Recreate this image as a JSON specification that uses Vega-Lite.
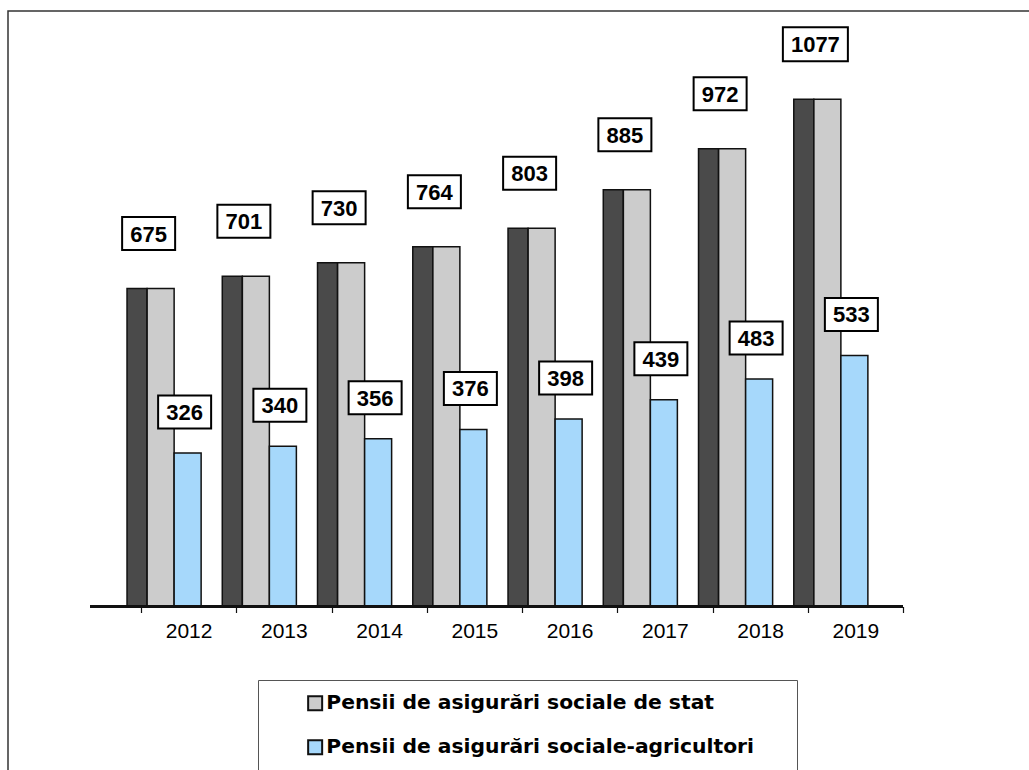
{
  "$schema": "https://vega.github.io/schema/vega-lite/v6.json",
  "width": 1024,
  "height": 762,
  "autosize": {"type": "none"},
  "padding": {"left": 8, "top": 11, "right": -3, "bottom": -3},
  "background": "white",
  "config": {
    "view": {"stroke": "#333333", "strokeWidth": 1.5},
    "font": "Liberation Sans"
  },
  "data": {
    "values": [
      {"year": "2012", "series": "Pensii de asigurări sociale de stat", "value": 675},
      {"year": "2013", "series": "Pensii de asigurări sociale de stat", "value": 701},
      {"year": "2014", "series": "Pensii de asigurări sociale de stat", "value": 730},
      {"year": "2015", "series": "Pensii de asigurări sociale de stat", "value": 764},
      {"year": "2016", "series": "Pensii de asigurări sociale de stat", "value": 803},
      {"year": "2017", "series": "Pensii de asigurări sociale de stat", "value": 885},
      {"year": "2018", "series": "Pensii de asigurări sociale de stat", "value": 972},
      {"year": "2019", "series": "Pensii de asigurări sociale de stat", "value": 1077},
      {"year": "2012", "series": "Pensii de asigurări sociale-agricultori", "value": 326},
      {"year": "2013", "series": "Pensii de asigurări sociale-agricultori", "value": 340},
      {"year": "2014", "series": "Pensii de asigurări sociale-agricultori", "value": 356},
      {"year": "2015", "series": "Pensii de asigurări sociale-agricultori", "value": 376},
      {"year": "2016", "series": "Pensii de asigurări sociale-agricultori", "value": 398},
      {"year": "2017", "series": "Pensii de asigurări sociale-agricultori", "value": 439},
      {"year": "2018", "series": "Pensii de asigurări sociale-agricultori", "value": 483},
      {"year": "2019", "series": "Pensii de asigurări sociale-agricultori", "value": 533}
    ]
  },
  "layer": [
    {
      "transform": [{"filter": {"field": "series", "equal": "Pensii de asigurări sociale de stat"}}],
      "mark": {"type": "bar", "fill": "#4a4a4a", "stroke": "#111111", "strokeWidth": 1.5, "width": 20, "xOffset": -51.6},
      "encoding": {
        "x": {
          "field": "year", "type": "nominal", "sort": null,
          "scale": {"range": [133, 895], "paddingInner": 0, "paddingOuter": 0},
          "axis": {
            "title": null, "domain": false, "labelAngle": 0,
            "tickBand": "extent", "tickSize": 6, "tickColor": "#111111", "tickWidth": 1.2,
            "labelFont": "Liberation Sans", "labelFontSize": 21, "labelColor": "black",
            "labelPadding": 8, "offset": -166.5, "grid": false
          }
        },
        "y": {
          "field": "value", "type": "quantitative",
          "scale": {"domain": [-353.5, 1264.3], "nice": false, "zero": false},
          "axis": null
        }
      }
    },
    {
      "transform": [{"filter": {"field": "series", "equal": "Pensii de asigurări sociale de stat"}}],
      "mark": {"type": "bar", "stroke": "#111111", "strokeWidth": 1.5, "width": 27, "xOffset": -28},
      "encoding": {
        "x": {"field": "year", "type": "nominal", "sort": null},
        "y": {"field": "value", "type": "quantitative"},
        "color": {
          "field": "series", "type": "nominal",
          "scale": {
            "domain": ["Pensii de asigurări sociale de stat", "Pensii de asigurări sociale-agricultori"],
            "range": ["#cccccc", "#a6d8fb"]
          },
          "legend": {
            "orient": "none", "legendX": 250, "legendY": 669,
            "title": " ", "titleOrient": "right", "titlePadding": 30,
            "padding": 13, "strokeColor": "#555555", "fillColor": "white",
            "symbolType": "square", "symbolSize": 196, "symbolOffset": 34,
            "symbolStrokeColor": "black", "symbolStrokeWidth": 2,
            "labelFont": "DejaVu Sans", "labelFontWeight": "bold", "labelFontSize": 20.3,
            "labelColor": "black", "labelLimit": 0, "labelOffset": 1, "rowPadding": 21
          }
        }
      }
    },
    {
      "transform": [{"filter": {"field": "series", "equal": "Pensii de asigurări sociale-agricultori"}}],
      "mark": {"type": "bar", "stroke": "#111111", "strokeWidth": 1.5, "width": 27, "xOffset": -1},
      "encoding": {
        "x": {"field": "year", "type": "nominal", "sort": null},
        "y": {"field": "value", "type": "quantitative"},
        "color": {"field": "series", "type": "nominal"}
      }
    },
    {
      "mark": {"type": "rule", "stroke": "#111111", "strokeWidth": 1.5, "xOffset": -98.6, "x2Offset": 47.6},
      "encoding": {
        "x": {"datum": "2012"},
        "x2": {"datum": "2019"},
        "y": {"datum": 0}
      }
    },
    {
      "transform": [{"filter": {"field": "series", "equal": "Pensii de asigurări sociale de stat"}}],
      "mark": {"type": "point", "filled": true, "fill": "white", "stroke": "black", "strokeWidth": 2, "opacity": 1, "xOffset": -40, "yOffset": -55},
      "encoding": {
        "x": {"field": "year", "type": "nominal", "sort": null},
        "y": {"field": "value", "type": "quantitative"},
        "shape": {"condition": {"test": "datum.value >= 1000", "value": "M-1,-0.523H1V0.523H-1Z"}, "value": "M-1,-0.623H1V0.623H-1Z"},
        "size": {"condition": {"test": "datum.value >= 1000", "value": 4225}, "value": 2809}
      }
    },
    {
      "transform": [{"filter": {"field": "series", "equal": "Pensii de asigurări sociale de stat"}}],
      "mark": {"type": "text", "font": "Liberation Sans", "fontWeight": "bold", "fontSize": 22, "color": "black", "align": "center", "baseline": "middle", "xOffset": -40, "yOffset": -54},
      "encoding": {
        "x": {"field": "year", "type": "nominal", "sort": null},
        "y": {"field": "value", "type": "quantitative"},
        "text": {"field": "value", "type": "quantitative"}
      }
    },
    {
      "transform": [{"filter": {"field": "series", "equal": "Pensii de asigurări sociale-agricultori"}}],
      "mark": {"type": "point", "filled": true, "fill": "white", "stroke": "black", "strokeWidth": 2, "opacity": 1, "xOffset": -4, "yOffset": -41, "shape": "M-1,-0.623H1V0.623H-1Z", "size": 2809},
      "encoding": {
        "x": {"field": "year", "type": "nominal", "sort": null},
        "y": {"field": "value", "type": "quantitative"}
      }
    },
    {
      "transform": [{"filter": {"field": "series", "equal": "Pensii de asigurări sociale-agricultori"}}],
      "mark": {"type": "text", "font": "Liberation Sans", "fontWeight": "bold", "fontSize": 22, "color": "black", "align": "center", "baseline": "middle", "xOffset": -4, "yOffset": -40},
      "encoding": {
        "x": {"field": "year", "type": "nominal", "sort": null},
        "y": {"field": "value", "type": "quantitative"},
        "text": {"field": "value", "type": "quantitative"}
      }
    }
  ]
}
